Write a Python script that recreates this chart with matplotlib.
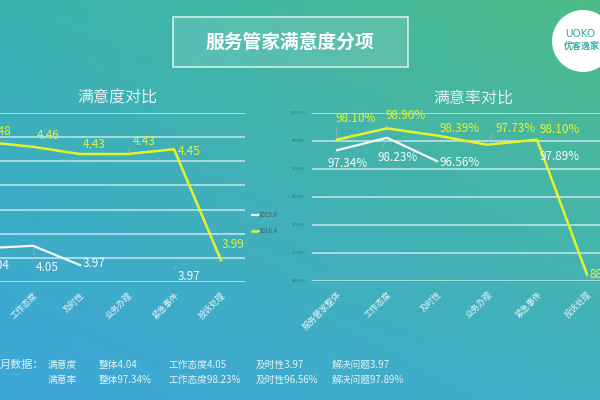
import numpy as np
import matplotlib
matplotlib.use('Agg')
import matplotlib.pyplot as plt
from matplotlib.patches import Rectangle, Circle

plt.rcParams['font.family'] = ['Noto Sans CJK SC', 'DejaVu Sans']

# data
categories = ['服务管家整体', '工作态度', '及时性', '业务办理', '紧急事件', '投诉处理']
score_2015 = [4.04, 4.05, 3.97, np.nan, 3.97, np.nan]
score_2016 = [4.48, 4.46, 4.43, 4.43, 4.45, 3.99]
rate_2015 = [97.34, 98.23, 96.56, np.nan, 97.89, np.nan]
rate_2016 = [98.10, 98.90, 98.39, 97.73, 98.10, 88.46]
series_names = ['2015.8', '2016.4']
score_ticks = [3.9, 4.0, 4.1, 4.2, 4.3, 4.4, 4.5, 4.6]
rate_ticks = [88, 90, 92, 94, 96, 98, 100]

footer_rows = [
    ['满意度', '整体4.04', '工作态度4.05', '及时性3.97', '解决问题3.97'],
    ['满意率', '整体97.34%', '工作态度98.23%', '及时性96.56%', '解决问题97.89%'],
]

# label offsets in pixels (dx, dy), and whether a leader line is drawn
off_score_16 = [(3, 10), (4, 11), (3, 10), (6, 13), (4, -2), (1, 16)]
off_score_15 = [(1, -17), (3, -22), (3, 2), None, (4, -11), None]
off_rate_16 = [(-1, 21), (-2, 13), (2, 7), (8, 16), (3, 10), (3, 0)]
off_rate_15 = [(-9, -13), (-10, -20), (3, -1), None, (3, -14), None]
lead_score_16 = [False, True, False, True, False, True]
lead_score_15 = [False, True, False, False, True, False]
lead_rate_16 = [True, True, False, True, False, False]
lead_rate_15 = [True, True, False, False, True, False]

YELLOW = '#e6f22c'
WHITE = '#f4f8fa'
GRID = '#dcf0f4'
LABEL = '#e2f1f4'
LEADER = '#9fb4b8'

fig = plt.figure(figsize=(6, 4), dpi=100)

# background gradient
bg = fig.add_axes([0, 0, 1, 1])
tl = np.array([58, 180, 178]) / 255
tr = np.array([78, 188, 136]) / 255
bl = np.array([62, 166, 218]) / 255
br = np.array([64, 176, 196]) / 255
u = np.linspace(0, 1, 300)[None, :, None]
v = np.linspace(0, 1, 200)[:, None, None]
grad = (1 - v) * ((1 - u) * tl + u * tr) + v * ((1 - u) * bl + u * br)
bg.imshow(grad, extent=[0, 600, 400, 0], aspect='auto')
bg.set_xlim(0, 600)
bg.set_ylim(400, 0)
bg.axis('off')

# header box
bg.add_patch(Rectangle((173, 17), 235, 50, facecolor=(1, 1, 1, 0.12),
                       edgecolor=(1, 1, 1, 0.75), lw=1.2))
bg.text(290, 42, '服务管家满意度分项', color='white', fontsize=13.5,
        fontweight='bold', ha='center', va='center')

# logo
bg.add_patch(Circle((583, 41), 31, facecolor='white', edgecolor='none'))
bg.text(565, 34, 'UOKO', color='#3aa9a4', fontsize=7.5, ha='left', va='center',
        family='DejaVu Sans')
bg.text(564, 46, '优客逸家', color='#3aa9a4', fontsize=6.5, ha='left', va='center',
        fontweight='bold')

# titles
bg.text(117, 98, '满意度对比', color=LABEL, fontsize=11.5, ha='center', va='center')
bg.text(473, 98, '满意率对比', color=LABEL, fontsize=11.5, ha='center', va='center')

# footer
bg.text(0, 365, '月数据：', color=LABEL, fontsize=8, ha='left', va='center')
cols = [48, 99, 168, 256, 332]
for r, row in enumerate(footer_rows):
    for c, txt in enumerate(row):
        bg.text(cols[c], 365 + 15 * r, txt, color=LABEL, fontsize=7,
                ha='left', va='center')


def label_points(ax, x, vals, offs, leads, color, fmt):
    for i, val in enumerate(vals):
        if offs[i] is None:
            continue
        props = None
        if leads[i]:
            props = dict(arrowstyle='-', color=LEADER, lw=0.6,
                         shrinkA=0, shrinkB=1, relpos=(0, 0.5))
        ax.annotate(fmt(val), (x[i], val), xytext=offs[i], textcoords='offset pixels',
                    color=color, fontsize=8.5, ha='left', va='center',
                    arrowprops=props, annotation_clip=False, zorder=4)


def draw_chart(ax, s15, s16, ticks, o15, o16, ld15, ld16, fmt):
    x = np.arange(len(categories))
    l15, = ax.plot(x, s15, color=WHITE, lw=1.6, zorder=3)
    l16, = ax.plot(x, s16, color=YELLOW, lw=1.8, zorder=3)
    label_points(ax, x, s16, o16, ld16, YELLOW, fmt)
    label_points(ax, x, s15, o15, ld15, WHITE, fmt)
    ax.set_xlim(-0.5, len(categories) - 0.5)
    ax.set_ylim(ticks[0], ticks[-1])
    ax.set_yticks(ticks)
    ax.grid(axis='y', color=GRID, lw=1.1, alpha=0.85)
    ax.set_axisbelow(True)
    for sp in ax.spines.values():
        sp.set_visible(False)
    ax.set_xticks(x)
    ax.set_xticklabels(categories, rotation=45, ha='right', va='top',
                       rotation_mode='anchor', fontsize=6, color='#e8f4f6')
    ax.tick_params(axis='x', length=0, pad=6)
    ax.tick_params(axis='y', length=0, labelsize=3, labelcolor='#3f6a78', pad=4)
    ax.patch.set_alpha(0)
    return l15, l16


ax1 = fig.add_axes([-37.5 / 600, 118 / 400, 282 / 600, 169 / 400])
h15, h16 = draw_chart(ax1, score_2015, score_2016, score_ticks,
                      off_score_15, off_score_16, lead_score_15, lead_score_16,
                      lambda v: f'{v:.2f}')

ax2 = fig.add_axes([312 / 600, 119 / 400, 300 / 600, 168 / 400])
draw_chart(ax2, rate_2015, rate_2016, rate_ticks,
           off_rate_15, off_rate_16, lead_rate_15, lead_rate_16,
           lambda v: f'{v:.2f}%')
ax2.set_yticklabels([f'{t:.2f}%' for t in rate_ticks])

fig.legend([h15, h16], series_names, loc='center left',
           bbox_to_anchor=(246 / 600, 1 - 223 / 400), frameon=False,
           fontsize=4.5, labelcolor='#3d6675', handlelength=1.0,
           handletextpad=0.2, labelspacing=1.2)

fig.savefig('out.png', dpi=100)
